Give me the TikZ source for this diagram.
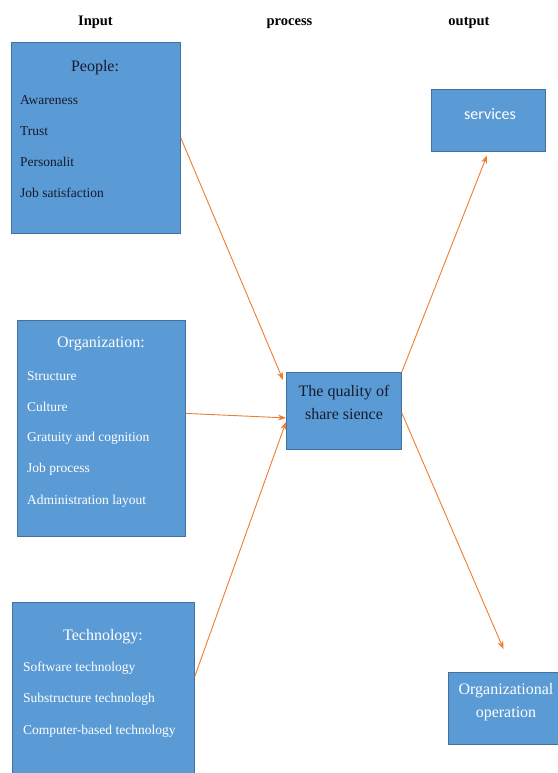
\documentclass[tikz,border=0pt]{standalone}
\usepackage{fontspec}
\setmainfont{Liberation Serif}
\newfontfamily\calibrifont{Carlito}
\usetikzlibrary{arrows.meta}
\definecolor{boxblue}{RGB}{91,155,213}
\definecolor{boxline}{RGB}{65,113,156}
\definecolor{linkorange}{RGB}{237,125,49}
\definecolor{darktext}{RGB}{22,26,46}
\tikzset{
  box/.style={draw=boxline,fill=boxblue,line width=0.8pt,inner sep=0pt,anchor=north west},
  item/.style={anchor=west,inner sep=0pt,font=\fontsize{13.5}{15}\selectfont},
  head/.style={inner sep=0pt,text height=11pt,text depth=3pt,font=\fontsize{16}{19}\selectfont},
  title/.style={inner sep=0pt,anchor=base,font=\bfseries\fontsize{14.5}{17}\selectfont},
  link/.style={draw=linkorange,line width=0.9pt,-{Stealth[length=8pt,width=6pt]}}
}
\begin{document}
\begin{tikzpicture}[x=1pt,y=-1pt]
\useasboundingbox (0,0) rectangle (557,773);
\node[title] (tin) at (95.5,26) {Input};
\node[title] (tproc) at (289.5,26) {process};
\node[title] (tout) at (469,26) {output};
% input boxes
\node[box,minimum width=169pt,minimum height=191pt] (people) at (11,42) {};
\node[head,text=darktext] (peoplehd) at (95,68) {People:};
\node[item,text=darktext] (p1) at (20,100) {Awareness};
\node[item,text=darktext] (p2) at (20,131) {Trust};
\node[item,text=darktext] (p3) at (20,162) {Personalit};
\node[item,text=darktext] (p4) at (20,193) {Job satisfaction};
\node[box,minimum width=168pt,minimum height=216pt] (org) at (17,320) {};
\node[head,text=white] (orghd) at (101,343) {Organization:};
\node[item,text=white] (o1) at (27,376) {Structure};
\node[item,text=white] (o2) at (27,407) {Culture};
\node[item,text=white] (o3) at (27,438) {Gratuity and cognition};
\node[item,text=white] (o4) at (27,469) {Job process};
\node[item,text=white] (o5) at (27,501) {Administration layout};
\node[box,minimum width=182pt,minimum height=176pt] (tech) at (12,602) {};
\node[head,text=white] (techhd) at (103,636) {Technology:};
\node[item,text=white] (t1) at (23,668) {Software technology};
\node[item,text=white] (t2) at (23,699) {Substructure technologh};
\node[item,text=white] (t3) at (23,731) {Computer-based technology};
% process
\node[box,minimum width=115pt,minimum height=77pt] (quality) at (286,372) {};
\node[head,text=darktext] (q1) at (344,392) {The quality of};
\node[head,text=darktext] (q2) at (344,415) {share sience};
% outputs
\node[box,minimum width=114pt,minimum height=62pt] (services) at (431,89) {};
\node[head,text=white,font=\calibrifont\fontsize{16}{19}\selectfont] (s1) at (490,116) {services};
\node[box,minimum width=112pt,minimum height=72pt] (operation) at (448,672) {};
\node[head,text=white] (op1) at (506,690) {Organizational};
\node[head,text=white] (op2) at (506,713) {operation};
% connectors
\draw[link] (people.east) -- ([xshift=-3pt,yshift=31pt]quality.west);
\draw[link] ([yshift=15pt]org.east) -- ([yshift=-7pt]quality.west);
\draw[link] ([yshift=14pt]tech.east) -- ([yshift=-11pt]quality.west);
\draw[link,shorten >=4pt] (quality.north east) -- (services.south);
\draw[link,shorten >=25pt] ([yshift=-2pt]quality.east) -- ([xshift=9pt]operation.north);
\end{tikzpicture}
\end{document}
